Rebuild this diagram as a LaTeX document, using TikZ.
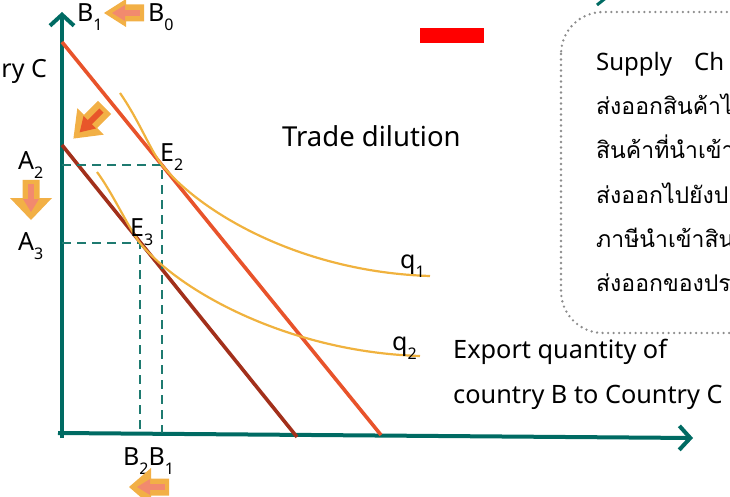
\documentclass[tikz,border=0pt]{standalone}
\usepackage{fontspec}
\setmainfont{Noto Sans}
\newfontfamily\thaifont[Script=Thai]{Loma}
\usetikzlibrary{arrows.meta}
\definecolor{axteal}{HTML}{006B63}
\definecolor{dashteal}{HTML}{1E7A70}
\definecolor{lineone}{HTML}{E8532B}
\definecolor{linetwo}{HTML}{A2301B}
\definecolor{qcurve}{HTML}{F0B23E}
\definecolor{blockfill}{HTML}{F2B046}
\definecolor{salmon}{HTML}{F28A6E}
\definecolor{redhot}{HTML}{E8562A}
\definecolor{boxgray}{HTML}{8C8C8C}
\newcommand\lowsub[2]{#1\raisebox{-9pt}{\fontsize{16}{16}\selectfont #2}}
\tikzset{
  pics/blockarrow/.style 2 args={code={
    \fill[blockfill] (-20,-8.5) -- (-2,-8.5) -- (-2,-#2) -- (20,0) -- (-2,#2) -- (-2,8.5) -- (-20,8.5) -- cycle;
    \draw[#1, line width=6pt] (-16,0) -- (0,0);
    \fill[#1] (-1,-8) -- (12,0) -- (-1,8) -- cycle;
  }}
}
\begin{document}
\begin{tikzpicture}[x=1pt,y=-1pt,
    axis/.style={axteal, line width=4pt, -{Straight Barb[length=11pt,width=24pt]}},
    budget/.style={line width=3.6pt},
    guide/.style={dashteal, line width=1.8pt, dash pattern=on 9pt off 6pt},
    icurve/.style={qcurve, line width=2.2pt},
    lab/.style={font=\fontsize{25}{25}\selectfont, inner sep=0pt},
    thai/.style={font=\thaifont\fontsize{23}{23}\selectfont, inner sep=0pt, anchor=base west}]
  \useasboundingbox (0,0) rectangle (730,497);
  \clip (0,0) rectangle (730,497);

  % axes
  \coordinate (O) at (62,438);
  \coordinate (ytop) at (62,12);
  \coordinate (xo) at (58,433);
  \coordinate (xend) at (693,438);
  \draw[axis] (O) -- (ytop);
  \draw[axis] (xo) -- (xend);

  % budget lines
  \coordinate (a1) at (62,42);  \coordinate (b1) at (381,435);
  \coordinate (a2) at (62,145); \coordinate (b2) at (297,437);
  \draw[budget, lineone] (a1) -- (b1);
  \draw[budget, linetwo] (a2) -- (b2);

  % equilibria and guides
  \coordinate (E2) at (162,165); \coordinate (E3) at (140,243);
  \draw[guide] (62,165) -- (E2) -- (162,433);
  \draw[guide] (62,243) -- (E3) -- (140,433);

  % indifference curves
  \draw[icurve] (120,93) .. controls (140,122) and (150,150) .. (E2)
        .. controls (200,212) and (300,272) .. (430,276);
  \draw[icurve] (97,172) .. controls (112,192) and (128,227) .. (E3)
        .. controls (180,292) and (290,352) .. (420,356);

  % labels
  \node[lab, anchor=base west] (lb1) at (77,22) {\lowsub{B}{1}};
  \node[lab, anchor=base west] (lb0) at (148,22) {\lowsub{B}{0}};
  \node[lab, anchor=base east] (lcy) at (47,78) {ry C};
  \node[lab, anchor=base west] (le2) at (160,162) {\lowsub{E}{2}};
  \node[lab, anchor=base west] (le3) at (130,236) {\lowsub{E}{3}};
  \node[lab, anchor=base west] (la2) at (18,170) {\lowsub{A}{2}};
  \node[lab, anchor=base west] (la3) at (18,250) {\lowsub{A}{3}};
  \node[lab, anchor=base west] (lbb) at (123,465) {\lowsub{B}{2}\lowsub{B}{1}};
  \node[lab, anchor=base west] (lq1) at (400,268) {\lowsub{q}{1}};
  \node[lab, anchor=base west] (lq2) at (392,350) {\lowsub{q}{2}};
  \node[lab, anchor=base west, font=\fontsize{27.5}{27.5}\selectfont] (dil) at (282,147) {Trade dilution};
  \node[lab, anchor=base west, font=\fontsize{25.3}{25.3}\selectfont] (ex1) at (453,358) {Export quantity of};
  \node[lab, anchor=base west, font=\fontsize{25.3}{25.3}\selectfont] (ex2) at (453,403) {country B to Country C};

  % shift arrows
  \pic[rotate=180] at (124,13) {blockarrow={salmon}{14}};
  \pic[rotate=-90] at (31,200) {blockarrow={salmon}{21}};
  \pic[rotate=180] at (149,487) {blockarrow={salmon}{19}};
  \pic[rotate=-135, scale=1.1] at (89,123) {blockarrow={redhot}{17}};

  % red mark
  \fill[red] (420,28) rectangle (484,43);

  % note box
  \draw[axteal, line width=3pt] (597,5) -- (607,-3);
  \draw[boxgray, line width=2.6pt, line cap=round, dash pattern=on 0pt off 5.5pt, rounded corners=42pt] (561,12) rectangle (800,333);
  \node[lab, anchor=base west, font=\fontsize{24}{24}\selectfont] (sup) at (596,71) {Supply\hspace{22pt}Ch};
  \foreach \t [count=\i] in {ส่งออกสินค้าไ, สินค้าที่นำเข้า, ส่งออกไปยังป, ภาษีนำเข้าสิน, ส่งออกของปร}
    \node[thai] (th\i) at (596,71+44*\i) {\t};
\end{tikzpicture}
\end{document}
